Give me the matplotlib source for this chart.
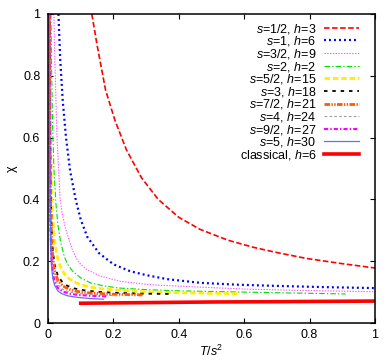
import matplotlib
matplotlib.use("Agg")
import matplotlib.pyplot as plt

plt.rcParams['font.family'] = ['Liberation Sans', 'DejaVu Sans']
plt.rcParams['mathtext.fontset'] = 'custom'
plt.rcParams['mathtext.rm'] = 'Liberation Sans'
plt.rcParams['mathtext.it'] = 'Liberation Sans:italic'
plt.rcParams['lines.scale_dashes'] = False

# ---- data ----
labels = [r"$s$=1/2, $h$=3", r"$s$=1, $h$=6", r"$s$=3/2, $h$=9", r"$s$=2, $h$=2",
          r"$s$=5/2, $h$=15", r"$s$=3, $h$=18", r"$s$=7/2, $h$=21", r"$s$=4, $h$=24",
          r"$s$=9/2, $h$=27", r"$s$=5, $h$=30", r"classical, $h$=6"]

T_s05 = [0.134, 0.15, 0.176, 0.205, 0.24, 0.286, 0.337, 0.4, 0.465, 0.55, 0.628, 0.7, 0.79, 0.9, 1.0]
X_s05 = [1.0, 0.90, 0.754, 0.655, 0.56, 0.47, 0.40, 0.342, 0.303, 0.268, 0.245, 0.228, 0.209, 0.192, 0.178]

T_s1 = [0.032, 0.037, 0.045, 0.055, 0.068, 0.085, 0.1, 0.12, 0.156, 0.2, 0.25, 0.3, 0.364, 0.465, 0.578, 0.7, 0.85, 1.0]
X_s1 = [1.0, 0.86, 0.72, 0.60, 0.49, 0.398, 0.335, 0.279, 0.226, 0.19, 0.168, 0.155, 0.142, 0.13, 0.124, 0.12, 0.116, 0.113]

T_s15 = [0.018, 0.021, 0.027, 0.037, 0.045, 0.055, 0.064, 0.075, 0.089, 0.1, 0.12, 0.16, 0.22, 0.31, 0.465, 0.6, 0.75, 1.0]
X_s15 = [1.0, 0.85, 0.615, 0.40, 0.345, 0.30, 0.27, 0.235, 0.205, 0.19, 0.172, 0.152, 0.135, 0.124, 0.116, 0.11, 0.106, 0.101]

T_s2 = [0.009, 0.011, 0.014, 0.018, 0.024, 0.03, 0.039, 0.05, 0.06, 0.075, 0.1, 0.13, 0.17, 0.22, 0.3, 0.4, 0.5, 0.6, 0.75, 0.91]
X_s2 = [1.0, 0.82, 0.64, 0.5, 0.39, 0.32, 0.26, 0.215, 0.19, 0.168, 0.146, 0.13, 0.12, 0.113, 0.108, 0.104, 0.102, 0.1, 0.097, 0.094]

T_s25 = [0.0048, 0.006, 0.008, 0.011, 0.015, 0.02, 0.028, 0.037, 0.05, 0.065, 0.08, 0.1, 0.13, 0.17, 0.22, 0.3, 0.4, 0.5, 0.58]
X_s25 = [1.0, 0.77, 0.576, 0.43, 0.333, 0.269, 0.216, 0.184, 0.159, 0.143, 0.133, 0.124, 0.116, 0.11, 0.106, 0.101, 0.098, 0.096, 0.095]

T_s3 = [0.0048, 0.006, 0.008, 0.011, 0.015, 0.02, 0.03, 0.044, 0.06, 0.08, 0.11, 0.15, 0.2, 0.28, 0.37]
X_s3 = [1.0, 0.68, 0.44, 0.305, 0.233, 0.19, 0.153, 0.132, 0.12, 0.112, 0.106, 0.101, 0.098, 0.095, 0.094]

T_s35 = [0.0048, 0.006, 0.008, 0.011, 0.015, 0.02, 0.03, 0.045, 0.065, 0.09, 0.13, 0.2, 0.29]
X_s35 = [1.0, 0.60, 0.384, 0.268, 0.206, 0.17, 0.138, 0.12, 0.109, 0.102, 0.097, 0.093, 0.091]

T_s4 = [0.0046, 0.0055, 0.007, 0.009, 0.012, 0.016, 0.022, 0.03, 0.045, 0.065, 0.09, 0.13, 0.22]
X_s4 = [1.0, 0.61, 0.39, 0.28, 0.21, 0.17, 0.142, 0.124, 0.109, 0.10, 0.096, 0.092, 0.088]

T_s45 = [0.0045, 0.0055, 0.007, 0.009, 0.012, 0.016, 0.022, 0.03, 0.045, 0.065, 0.09, 0.13, 0.18]
X_s45 = [1.0, 0.53, 0.34, 0.244, 0.186, 0.152, 0.129, 0.114, 0.102, 0.095, 0.091, 0.088, 0.086]

T_s5 = [0.0044, 0.005, 0.006, 0.008, 0.011, 0.015, 0.02, 0.03, 0.04, 0.06, 0.09, 0.13, 0.17]
X_s5 = [1.0, 0.63, 0.40, 0.25, 0.18, 0.143, 0.123, 0.104, 0.096, 0.088, 0.083, 0.079, 0.077]

T_cl = [0.1, 0.3, 0.5, 0.7, 1.0]
X_cl = [0.064, 0.066, 0.068, 0.069, 0.071]

xticks = [0, 0.2, 0.4, 0.6, 0.8, 1]
xticklabels = ["0", "0.2", "0.4", "0.6", "0.8", "1"]
yticks = [0, 0.2, 0.4, 0.6, 0.8, 1]
yticklabels = ["0", "0.2", "0.4", "0.6", "0.8", "1"]

series = [(T_s05, X_s05), (T_s1, X_s1), (T_s15, X_s15), (T_s2, X_s2), (T_s25, X_s25),
          (T_s3, X_s3), (T_s35, X_s35), (T_s4, X_s4), (T_s45, X_s45), (T_s5, X_s5), (T_cl, X_cl)]

styles = [
    dict(color='#ff0000', lw=1.2, dashes=(4, 1.8)),
    dict(color='#0000ff', lw=1.6, dashes=(1.4, 2.2)),
    dict(color='#ff55ff', lw=0.8, dashes=(1, 1)),
    dict(color='#00dd00', lw=0.8, dashes=(4, 1.5, 1, 1.5)),
    dict(color='#ffee00', lw=2.0, dashes=(4, 2)),
    dict(color='#000000', lw=1.3, dashes=(2.5, 3.5)),
    dict(color='#ff5a00', lw=2.0, dashes=(4, 1, 1, 1, 1, 1)),
    dict(color='#a0a0a0', lw=0.8, dashes=(2, 1.5)),
    dict(color='#ff00ff', lw=1.5, dashes=(3, 1.5, 1, 1.5)),
    dict(color='#6a6aff', lw=0.9, dashes=None),
    dict(color='#ff0000', lw=2.6, dashes=None),
]

FS = 9.0

fig = plt.figure(figsize=(3.9, 3.64), dpi=100)
ax = fig.add_axes([48/390, 41/364, 327/390, 309/364])

for (t, x), st, lab in zip(series, styles, labels):
    line, = ax.plot(t, x, color=st['color'], lw=st['lw'], label=lab)
    if st['dashes'] is not None:
        line.set_dashes(st['dashes'])

ax.set_xlim(0, 1)
ax.set_ylim(0, 1)
ax.set_xticks(xticks)
ax.set_xticklabels(xticklabels)
ax.set_yticks(yticks)
ax.set_yticklabels(yticklabels)
ax.tick_params(direction='in', length=3.6, width=0.8, top=True, right=True,
               labelsize=FS)
ax.tick_params(axis='x', pad=4)
ax.tick_params(axis='y', pad=5.5)
for sp in ax.spines.values():
    sp.set_linewidth(1.1)

ax.set_xlabel(r"$T/s^2$", fontsize=FS, labelpad=2)
ax.set_ylabel("χ", fontsize=FS, labelpad=4)

leg = ax.legend(loc='upper right', bbox_to_anchor=(0.955, 0.979), frameon=False,
                markerfirst=False, fontsize=FS, handlelength=2.8, handletextpad=0.6,
                labelspacing=-0.11, borderpad=0.1, borderaxespad=0)

fig.savefig("out.png", dpi=100)
